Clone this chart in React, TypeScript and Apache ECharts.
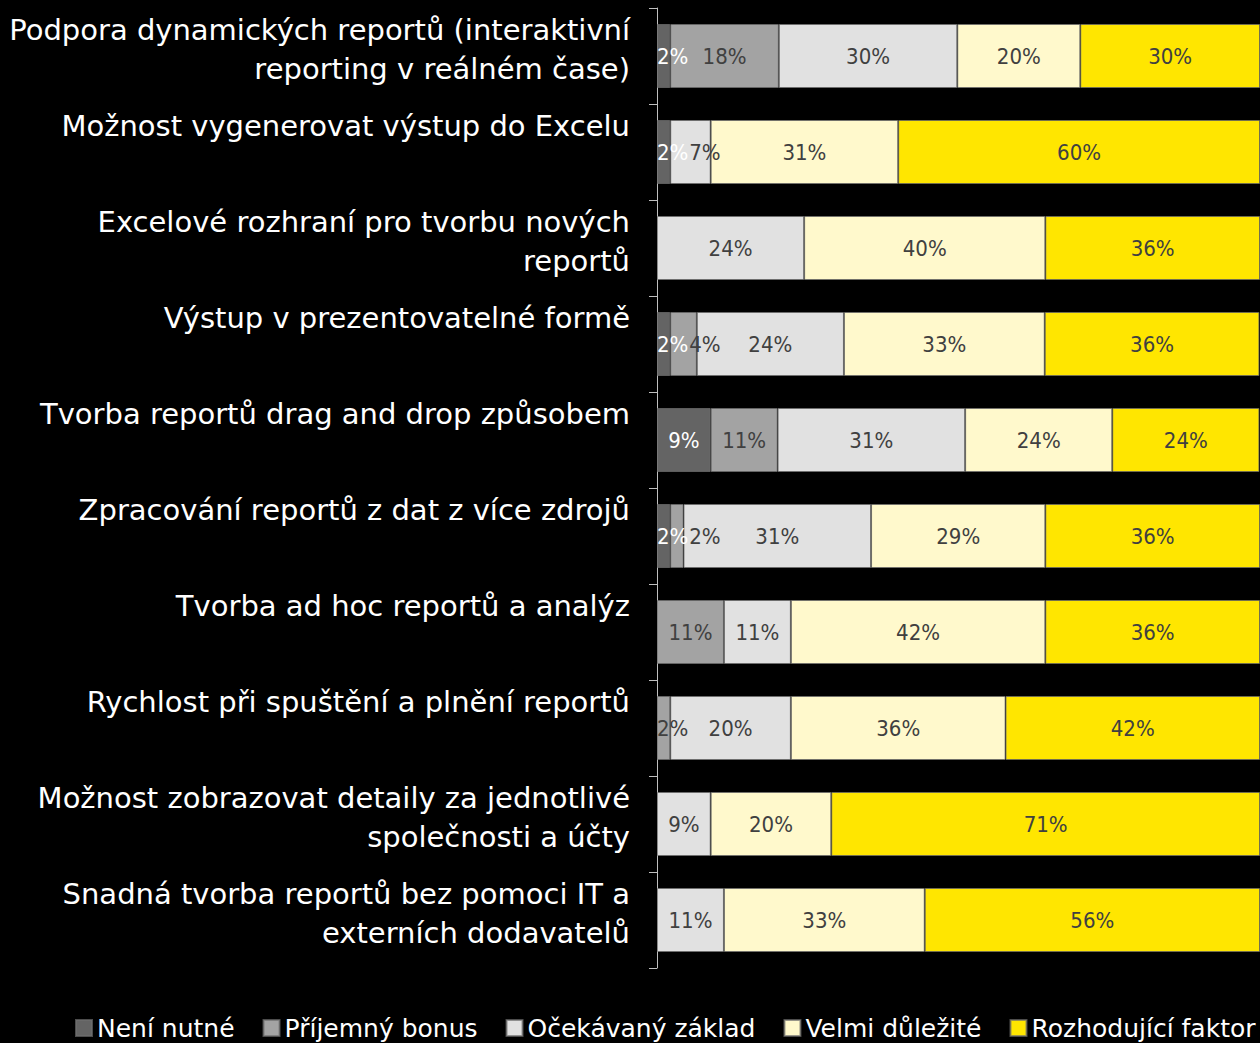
import React, { useEffect, useRef } from "react";
import * as echarts from "echarts";

const categories = [
  "Podpora dynamických reportů (interaktivní\nreporting v reálném čase)",
  "Možnost vygenerovat výstup do Excelu",
  "Excelové rozhraní pro tvorbu nových\nreportů",
  "Výstup v prezentovatelné formě",
  "Tvorba reportů drag and drop způsobem",
  "Zpracování reportů z dat z více zdrojů",
  "Tvorba ad hoc reportů a analýz",
  "Rychlost při spuštění a plnění reportů",
  "Možnost zobrazovat detaily za jednotlivé\nspolečnosti a účty",
  "Snadná tvorba reportů bez pomoci IT a\nexterních dodavatelů",
];

const seriesNames = [
  "Není nutné",
  "Příjemný bonus",
  "Očekávaný základ",
  "Velmi důležité",
  "Rozhodující faktor",
];

const neniNutne = [2.2, 2.2, 0, 2.2, 8.9, 2.2, 0, 0, 0, 0];
const prijemnyBonus = [18.0, 0, 0, 4.4, 11.1, 2.2, 11.1, 2.2, 0, 0];
const ocekavanyZaklad = [29.6, 6.7, 24.4, 24.4, 31.1, 31.1, 11.1, 20.0, 8.9, 11.1];
const velmiDulezite = [20.4, 31.1, 40.0, 33.3, 24.4, 28.9, 42.2, 35.6, 20.0, 33.3];
const rozhodujiciFaktor = [29.8, 60.0, 35.6, 35.6, 24.4, 35.6, 35.6, 42.2, 71.1, 55.6];

const seriesValues = [neniNutne, prijemnyBonus, ocekavanyZaklad, velmiDulezite, rozhodujiciFaktor];
const seriesColors = ["#646464", "#a3a3a3", "#e1e1e1", "#fff9cc", "#ffe600"];
const labelColors = ["#ffffff", "#404040", "#404040", "#404040", "#404040"];

const labelFont = "'DejaVu Sans Condensed', 'DejaVu Sans', sans-serif";
const textFont = "'DejaVu Sans', sans-serif";

export default function App() {
  const ref = useRef<HTMLDivElement>(null);
  useEffect(() => {
    if (!ref.current) return;
    const chart = echarts.init(ref.current, null, { renderer: "svg" });
    const series = seriesValues.map((vals, si) => ({
      name: seriesNames[si],
      type: "bar",
      stack: "total",
      barWidth: 64,
      itemStyle: { color: seriesColors[si], borderColor: "rgba(110,110,110,0.7)", borderWidth: 1 },
      label: {
        show: true,
        position: "inside",
        color: labelColors[si],
        fontFamily: labelFont,
        fontSize: 22,
        formatter: (p: any) => (p.value ? Math.round(p.value) + "%" : ""),
      },
      data: vals.map((v, ci) => {
        if (v === 0) return "-";
        let prev = 0;
        for (let k = si - 1; k >= 0; k--) {
          if (seriesValues[k][ci] > 0) {
            prev = seriesValues[k][ci];
            break;
          }
        }
        if (prev > 0 && prev < 5 && v < 10) {
          return { value: v, label: { position: "insideLeft", distance: 19 } };
        }
        if (v < 5) return { value: v, label: { position: "insideLeft", distance: 0 } };
        return v;
      }),
    }));
    chart.setOption({
      animation: false,
      backgroundColor: "#000000",
      grid: { left: 657, right: 0, top: 8, bottom: 75, containLabel: false },
      xAxis: {
        type: "value",
        min: 0,
        max: 100,
        show: false,
      },
      yAxis: {
        type: "category",
        inverse: true,
        data: categories,
        axisLine: { show: true, lineStyle: { color: "#bfbfbf", width: 1 } },
        axisTick: { show: true, length: 8, lineStyle: { color: "#bfbfbf" } },
        axisLabel: {
          color: "#ffffff",
          fontFamily: textFont,
          fontSize: 29,
          lineHeight: 39,
          margin: 27,
          align: "right",
          verticalAlign: "top",
          padding: [-46, 0, 0, 0],
        },
        splitLine: { show: false },
      },
      legend: {
        left: 75,
        top: 1015,
        padding: 0,
        itemWidth: 16,
        itemHeight: 16,
        itemGap: 28,
        icon: "rect",
        selectedMode: false,
        textStyle: { color: "#ffffff", fontFamily: textFont, fontSize: 25, lineHeight: 26 },
        data: seriesNames,
      },
      series,
    });
    return () => chart.dispose();
  }, []);
  return <div ref={ref} style={{ width: 1260, height: 1043, position: "absolute", left: 0, top: 0 }} />;
}
